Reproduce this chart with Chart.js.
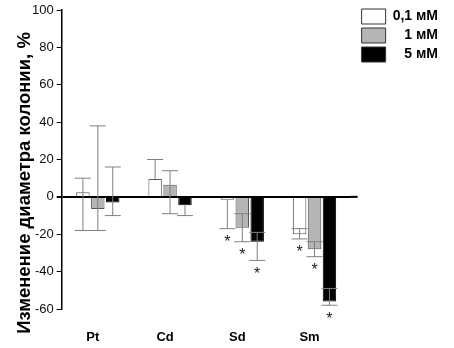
<!DOCTYPE html>
<html>
<head>
<meta charset="utf-8">
<script src="https://cdn.jsdelivr.net/npm/chart.js@4.4.0/dist/chart.umd.min.js"></script>
<style>
  html, body { margin: 0; padding: 0; background: #fff; }
  #wrap { width: 454px; height: 348px; }
</style>
</head>
<body>
<div id="wrap"><canvas id="chart"></canvas></div>
<script>
const categories = ['Pt', 'Cd', 'Sd', 'Sm'];
const seriesNames = ['0,1 мМ', '1 мМ', '5 мМ'];
const yTitle = 'Изменение диаметра колонии, %';

const white = [2.5, 9.5, -1.5, -20];
const gray = [-6.5, 6.5, -16.5, -28];
const black = [-3, -4.5, -24, -56];

// error bar ends (low / high)
const whiteLow = [-18, 9.5, -17, -22.5];
const whiteHigh = [10, 20, -1.5, -17];
const grayLow = [-18, -9, -24, -32];
const grayHigh = [38, 14, -9, -24];
const blackLow = [-10, -10, -34, -58];
const blackHigh = [16, -4.5, -19, -49];

// significance marks
const whiteStar = [false, false, true, true];
const grayStar = [false, false, true, true];
const blackStar = [false, false, true, true];

const yTicks = [-60, -40, -20, 0, 20, 40, 60, 80, 100];

const FONT = '"Liberation Sans", Arial, sans-serif';
const GAP = 7; // space between plot and legend, zero line runs into it

const errors = [
  { low: whiteLow, high: whiteHigh, star: whiteStar },
  { low: grayLow, high: grayHigh, star: grayStar },
  { low: blackLow, high: blackHigh, star: blackStar }
];

const errorBars = {
  id: 'errorBars',
  beforeDraw(chart) {
    // move the legend a bit away from the plot
    chart.legend.left = chart.chartArea.right + GAP;
  },
  afterDatasetsDraw(chart) {
    const ctx = chart.ctx;
    const y = chart.scales.y;
    ctx.save();
    const y0 = y.getPixelForValue(0);
    ctx.strokeStyle = '#000';
    ctx.lineWidth = 2;
    ctx.beginPath();
    ctx.moveTo(chart.chartArea.right - 1, y0);
    ctx.lineTo(chart.chartArea.right + GAP, y0);
    ctx.stroke();

    errors.forEach((e, di) => {
      const meta = chart.getDatasetMeta(di);
      const vals = chart.data.datasets[di].data;
      meta.data.forEach((bar, i) => {
        const x = bar.x;
        const yl = y.getPixelForValue(e.low[i]);
        const yh = y.getPixelForValue(e.high[i]);
        const half = 8;
        ctx.strokeStyle = '#808080';
        ctx.lineWidth = 1;
        ctx.beginPath();
        ctx.moveTo(x, yl);
        ctx.lineTo(x, yh);
        if (e.low[i] !== vals[i]) {
          ctx.moveTo(x - half, yl);
          ctx.lineTo(x + half, yl);
        }
        if (e.high[i] !== vals[i]) {
          ctx.moveTo(x - half, yh);
          ctx.lineTo(x + half, yh);
        }
        ctx.stroke();
        if (e.star[i]) {
          ctx.fillStyle = '#222';
          ctx.font = '16px ' + FONT;
          ctx.textAlign = 'center';
          ctx.textBaseline = 'top';
          ctx.fillText('*', x, Math.max(yl, bar.y) + 6);
        }
      });
    });
    ctx.restore();
  }
};

// y axis title, drawn a little lower than the plot centre like in the original
const axisTitle = {
  id: 'axisTitle',
  afterDraw(chart) {
    const ctx = chart.ctx;
    ctx.save();
    ctx.translate(25, 183);
    ctx.rotate(-Math.PI / 2);
    ctx.fillStyle = '#000';
    ctx.font = 'bold 18.5px ' + FONT;
    ctx.textAlign = 'center';
    ctx.textBaseline = 'middle';
    ctx.fillText(yTitle, 0, 0);
    ctx.restore();
  }
};

new Chart(document.getElementById('chart'), {
  type: 'bar',
  data: {
    labels: categories,
    datasets: [
      { label: seriesNames[0], data: white, backgroundColor: '#ffffff', borderColor: '#555555', borderWidth: 1 },
      { label: seriesNames[1], data: gray, backgroundColor: '#b5b5b5', borderColor: '#555555', borderWidth: 1 },
      { label: seriesNames[2], data: black, backgroundColor: '#000000', borderColor: '#000000', borderWidth: 1 }
    ]
  },
  options: {
    responsive: true,
    maintainAspectRatio: false,
    animation: false,
    datasets: { bar: { categoryPercentage: 0.62, barPercentage: 0.9 } },
    layout: { padding: { top: 5, left: 29, right: 13, bottom: 0 } },
    plugins: {
      tooltip: { enabled: false },
      legend: {
        position: 'right',
        align: 'start',
        labels: {
          boxWidth: 24,
          boxHeight: 15,
          padding: 4,
          color: '#000',
          font: { family: FONT, size: 14, weight: 'bold' },
          generateLabels(chart) {
            const pads = ['', '   ', '   '];
            return chart.data.datasets.map((ds, i) => ({
              text: pads[i] + ds.label,
              fillStyle: ds.backgroundColor,
              strokeStyle: '#333',
              lineWidth: 1,
              datasetIndex: i
            }));
          }
        }
      }
    },
    scales: {
      x: {
        grid: { display: false },
        border: { display: false },
        afterFit(axis) { axis.height = 39; },
        ticks: {
          padding: 13,
          labelOffset: -5,
          color: '#000',
          font: { family: FONT, size: 13, weight: 'bold' }
        }
      },
      y: {
        min: -60,
        max: 100,
        afterBuildTicks(axis) { axis.ticks = yTicks.map(v => ({ value: v })); },
        afterFit(axis) { axis.paddingTop = 10; },
        border: { display: true, color: '#000', width: 1.5 },
        grid: {
          drawOnChartArea: true,
          color: c => (c.tick && c.tick.value === 0 ? '#000' : 'rgba(0,0,0,0)'),
          lineWidth: c => (c.tick && c.tick.value === 0 ? 2 : 1),
          tickColor: '#000',
          tickLength: 5
        },
        ticks: {
          padding: 3,
          color: '#111',
          font: { family: FONT, size: 13 }
        }
      }
    }
  },
  plugins: [errorBars, axisTitle]
});
</script>
</body>
</html>
